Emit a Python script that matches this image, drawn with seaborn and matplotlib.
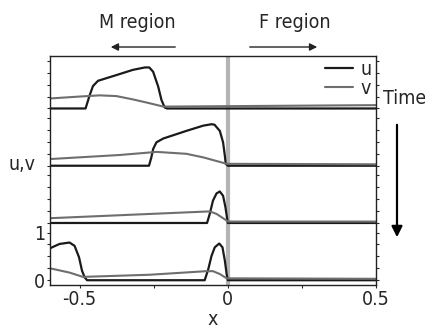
import matplotlib
matplotlib.use("Agg")
import matplotlib.pyplot as plt
import numpy as np
import seaborn as sns

# Snapshots of u and v, listed from the top (earliest) to the bottom (latest)
U_X = [
    [-0.6, -0.48, -0.466, -0.455, -0.438, -0.376, -0.32, -0.28, -0.265, -0.252, -0.235, -0.224, -0.213, -0.205, 0.5],
    [-0.6, -0.266, -0.258, -0.252, -0.241, -0.218, -0.14, -0.083, -0.055, -0.045, -0.027, -0.016, -0.01, -0.007, 0.0, 0.5],
    [-0.6, -0.07, -0.061, -0.05, -0.038, -0.027, -0.016, -0.008, -0.002, 0.0, 0.5],
    [-0.6, -0.568, -0.534, -0.517, -0.502, -0.492, -0.483, -0.475, -0.078, -0.066, -0.055, -0.044, -0.029, -0.018, -0.01, -0.004, 0.0, 0.5],
]
U_VAL = [
    [0, 0, 0.28, 0.47, 0.58, 0.70, 0.81, 0.86, 0.86, 0.77, 0.46, 0.18, 0.02, 0, 0],
    [0, 0, 0.175, 0.35, 0.49, 0.57, 0.73, 0.84, 0.87, 0.86, 0.73, 0.49, 0.21, 0.04, 0, 0],
    [0, 0, 0.19, 0.47, 0.62, 0.66, 0.57, 0.33, 0.08, 0, 0],
    [0.67, 0.76, 0.79, 0.72, 0.48, 0.20, 0.06, 0, 0, 0.23, 0.51, 0.69, 0.77, 0.69, 0.41, 0.13, 0, 0],
]
V_X = [
    [-0.6, -0.5, -0.432, -0.376, -0.32, -0.264, -0.218, -0.2, 0.5],
    [-0.6, -0.365, -0.24, -0.14, -0.083, -0.027, -0.004, 0.5],
    [-0.6, -0.072, -0.06, -0.038, -0.016, 0.001, 0.5],
    [-0.6, -0.534, -0.489, -0.264, -0.072, -0.05, -0.027, -0.004, 0.5],
]
V_VAL = [
    [0.21, 0.25, 0.275, 0.26, 0.19, 0.11, 0.04, 0.04, 0.07],
    [0.14, 0.225, 0.29, 0.25, 0.175, 0.08, 0.04, 0.03],
    [0.10, 0.24, 0.24, 0.19, 0.10, 0.03, 0.03],
    [0.25, 0.16, 0.07, 0.115, 0.19, 0.19, 0.13, 0.04, 0.03],
]

X_TICKS = [-0.5, -0.25, 0, 0.25, 0.5]
X_LABELS = ["-0.5", "", "0", "", "0.5"]
PANEL_TICKS = [0, 0.25, 0.5, 0.75, 1.0]

STEP = 1.2          # vertical shift between snapshots
U_COLOR = "#1a1a1a"
V_COLOR = "#6e6e6e"
FS = 14

sns.set_style("ticks")
plt.rcParams["font.family"] = ["DejaVu Sans"]
plt.rcParams["font.stretch"] = "condensed"
plt.rcParams["font.size"] = FS

W, H = 425, 329
fig = plt.figure(figsize=(W / 100, H / 100), dpi=100)
ax = fig.add_axes([50 / W, 1 - 285 / H, 326 / W, 229 / H])

def fpos(px, py):
    # figure fraction from pixel position measured from the top-left corner
    return (px / W, 1 - py / H)

n = len(U_X)
for i in range(n):
    off = STEP * (n - 1 - i)
    sns.lineplot(x=U_X[i], y=np.asarray(U_VAL[i]) + off, color=U_COLOR, lw=1.6,
                 sort=False, estimator=None, ax=ax, label="u" if i == 0 else None,
                 solid_joinstyle="round")
    sns.lineplot(x=V_X[i], y=np.asarray(V_VAL[i]) + off, color=V_COLOR, lw=1.5,
                 sort=False, estimator=None, ax=ax, label="v" if i == 0 else None,
                 solid_joinstyle="round")

ax.axvline(0, color="#b4b4b4", lw=3, zorder=1)

ax.set_xlim(-0.6, 0.5)
ax.set_ylim(-0.1, 4.7)
ax.set_xticks(X_TICKS)
ax.set_xticklabels(X_LABELS)
yt = [STEP * k + t for k in range(n) for t in PANEL_TICKS]
ax.set_yticks(yt)
ax.set_yticklabels(["0" if v == 0 else "1" if v == 1 else "" for v in yt])
ax.tick_params(axis="both", direction="out", length=2.5, width=0.8, pad=1, labelsize=FS)
ax.tick_params(axis="y", right=True)
for s in ax.spines.values():
    s.set_linewidth(1.0)
    s.set_color("#222222")

ax.set_xlabel("x", fontsize=FS, labelpad=1)
fig.text(*fpos(22, 165), "u,v", ha="center", va="center", fontsize=FS)

leg = ax.legend(loc="upper right", bbox_to_anchor=fpos(372, 60), bbox_transform=fig.transFigure,
                frameon=False, handlelength=1.45, handletextpad=0.4, labelspacing=0.0,
                fontsize=FS, borderaxespad=0, borderpad=0)

# region and time annotations
fig.text(*fpos(137, 23), "M region", ha="center", va="center", fontsize=FS)
fig.text(*fpos(295, 23), "F region", ha="center", va="center", fontsize=FS)
fig.text(*fpos(383, 98), "Time", ha="left", va="center", fontsize=FS)
arrow = dict(arrowstyle="-|>", color="#222222", lw=1.0, mutation_scale=11)
ax.annotate("", xy=fpos(108, 47), xytext=fpos(178, 47), xycoords="figure fraction", arrowprops=arrow)
ax.annotate("", xy=fpos(320, 47), xytext=fpos(247, 47), xycoords="figure fraction", arrowprops=arrow)
ax.annotate("", xy=fpos(397, 240), xytext=fpos(397, 122), xycoords="figure fraction",
            arrowprops=dict(arrowstyle="-|>", color="black", lw=1.6, mutation_scale=16))

fig.savefig("out.png", dpi=100)
